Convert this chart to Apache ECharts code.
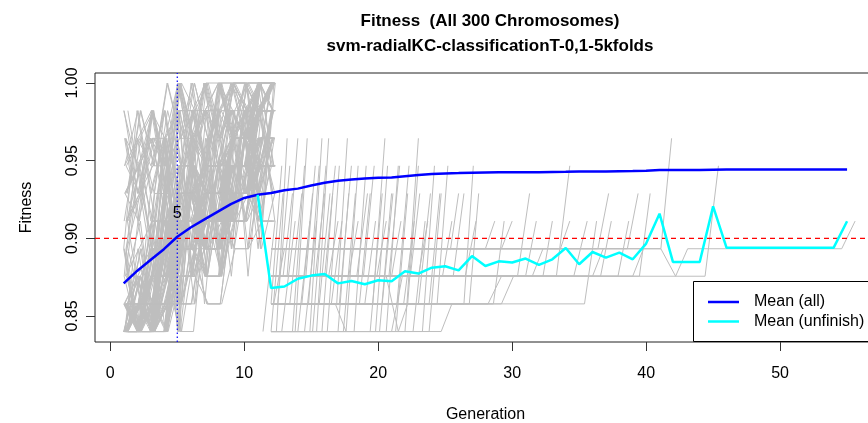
<!DOCTYPE html>
<html>
<head>
<meta charset="utf-8">
<script src="https://cdn.jsdelivr.net/npm/echarts@6/dist/echarts.min.js"></script>
<style>html,body{margin:0;padding:0;background:#fff;}#c{width:868px;height:423px;}</style>
</head>
<body>
<div id="c"></div>
<script>
// ---------------- data ----------------
const titleText = 'Fitness  (All 300 Chromosomes)';
const subtitleText = 'svm-radialKC-classificationT-0,1-5kfolds';
const xName = 'Generation';
const yName = 'Fitness';
const xTicks = [0, 10, 20, 30, 40, 50];
const yTicks = [0.85, 0.90, 0.95, 1.00];
const seriesNames = ['Mean (all)', 'Mean (unfinish)'];

// discrete fitness levels seen as horizontal bands
const levels = [0.84, 0.8578, 0.8756, 0.8933, 0.9111, 0.9289, 0.9467, 0.9644, 0.9822, 1.0];

const generations = [1,2,3,4,5,6,7,8,9,10,11,12,13,14,15,16,17,18,19,20,21,22,23,24,25,26,27,28,29,30,31,32,33,34,35,36,37,38,39,40,41,42,43,44,45,46,47,48,49,50,51,52,53,54,55];
const meanAll = [0.871,0.879,0.886,0.893,0.901,0.907,0.912,0.917,0.922,0.926,
  0.928,0.9292,0.931,0.932,0.934,0.9358,0.937,0.9378,0.9385,0.939,
  0.9392,0.940,0.9408,0.9414,0.9418,0.942,0.9423,0.9424,0.9425,0.9425,
  0.9425,0.9426,0.9427,0.9428,0.943,0.943,0.9431,0.9432,0.9433,0.9435,
  0.944,0.944,0.944,0.944,0.9442,0.9443,0.9443,0.9443,0.9443,0.9443,
  0.9443,0.9443,0.9443,0.9443,0.9443];
const unfinishGenerations = [11,12,13,14,15,16,17,18,19,20,21,22,23,24,25,26,27,28,29,30,31,32,33,34,35,36,37,38,39,40,41,42,43,44,45,46,47,48,49,50,51,52,53,54,55];
const meanUnfinish = [0.928,0.868,0.869,0.874,0.876,0.877,0.871,0.8725,0.8704,0.873,
  0.8723,0.8788,0.8773,0.8811,0.882,0.8794,0.8886,0.8822,0.8852,0.8844,
  0.887,0.8829,0.8865,0.8938,0.8833,0.8912,0.8876,0.8908,0.8865,0.8966,
  0.9159,0.8848,0.8848,0.8848,0.9206,0.894,0.894,0.894,0.894,0.894,
  0.894,0.894,0.894,0.894,0.911];

const thresholdFitness = 0.9;
const thresholdGeneration = 5;
const thresholdLabel = '5';
const thresholdLabelFitness = 0.916;
const yRange = [0.83326, 1.00644];
const xRange = [-1.142, 57.16];

// individual chromosomes, generations 1..12: first digit = small generation offset,
// then one level index per generation
const earlyPaths = [
 "0003355446677","3014422556688","6000444335566","1102536475869","4000033666677",
 "7021144557766","2300055226644","5011566447788","8000222555577","9130314425566",
 "0002255336699","4010044225577","7220055447766","1000311446655","5103366557788",
 "2041125364758","6002200554466","3110336557799",
 "1023355664477","5100022446688","8000413524635","2014455667766","6200033115566",
 "3001146335577","7030255446677","4112244336655","9005533667788",
 "2000111444466","6021436556677","5003344225588","8010155336677",
 "7240355667799","0001122554466","4000506354657","9310244556688",
 "1002233446655","2120022335566","8001436557766",
 "3013355446699","7200144335577","0000325364758","4011044557788","9002211443366",
 "1000355664477","6101033225544","2030044556688","8000122556677","5456677889999",
 "3002435465768","7010033445566","4234455667799","9001144336655",
 "1120055447788","6000233115544","2012455667788","5301244335566",
 "3002266557788","7010134254667","4567788999999","9100022113344",
 "1003355667799","6020144556677","8411033445566","5001255446688",
 "3000133225566","7123355667789","0010044335566","4000255446677","9200113344566",
 "1002344556688","2678788899989","8014433556677",
 "3100355446699","7003344557766","0020133446655","9012255667788",
 "1300044335566","6001133224455","2000566447788","8110244556677","5002233445599",
 "7021355447766","0100033556688","4000144335566","9013366557799",
 "0005273648596","3014062736485","5100638475968","1020507162738","7000416253647",
 "2103715264857","4000082637485","6012604738596","8000351627384","1200716283746",
 "3001527364758","5010463827596","0300274635869","9000603725849","2011405263748",
 "4002716384957","6100537264839","8020164738275","1000725364869","3010382647586",
 "2685796897899","5748596879898","1857697869789","4768579698789","7586978697899",
 "0867586979889","3758697889798","6678597869989","8586979788999","9857698979889",
 "1476859687989","4567486978899","2748596978789","5658697859898","7468597689799",
 "3546857697889","6457685979868","0385746968799","8475869787899","2563748697989",
 "5364758697889","9453768597988","1274857968799","7352647596889","4263758697968"
];

// later chromosomes: [start level, generation leaving it, generation reached, final level]
const latePaths = [
 [0,11.4,12.3,4],[0,12.0,12.9,5],[1,12.0,12.8,6],[1,12.2,13.0,3],[0,12.4,13.2,7],
 [1,12.5,13.4,6],[0,12.8,13.8,4],[2,12.9,13.6,5],[2,13.2,14.0,7],[1,13.4,14.3,5],
 [0,13.6,14.5,6],[0,13.8,14.7,7],[0,14.0,14.9,4],[1,14.3,15.1,5],[0,14.5,15.4,4],
 [2,14.6,15.3,6],[1,14.8,15.6,6],[0,14.9,15.8,7],[2,15.3,16.0,5],[0,15.1,16.1,6],
 [0,15.4,16.3,7],[1,15.6,16.4,5],[0,15.8,16.6,5],[2,16.0,16.8,6],[2,16.3,17.0,4],
 [0,16.2,17.1,6],[1,16.5,17.3,4],[1,16.9,17.7,7],[0,17.0,17.8,5],[1,17.1,18.0,6],
 [0,17.4,18.3,5],[0,17.6,18.5,6],[2,17.8,18.5,4],[0,18.2,19.1,6],[2,18.4,19.2,5],
 [1,18.6,19.4,5],[2,18.9,19.7,6],[1,19.0,19.8,4],[0,19.4,20.3,5],[1,19.6,20.5,7],
 [0,19.8,20.7,6],[2,19.9,20.6,4],[0,20.1,21.0,5],[1,20.3,21.1,5],[0,20.6,21.5,6],
 [2,20.8,21.6,6],[2,21.0,21.7,4],[0,21.3,22.2,5],[1,21.4,22.3,6],[1,21.9,22.7,4],
 [0,22.0,23.0,7],[1,22.2,23.0,6],[2,22.4,23.1,5],[0,22.6,23.5,4],[2,23.0,23.7,4],
 [1,23.0,23.9,5],[0,23.3,24.2,6],[1,23.8,24.6,5],[0,23.8,24.7,5],[1,24.4,25.2,6],
 [2,24.8,25.5,4],[3,25.4,26.0,5],[2,25.6,26.4,5],[1,26.4,27.1,6],[2,26.5,27.3,4],
 [1,26.8,27.5,5],[3,28.0,28.7,4],[1,28.6,29.4,4],[3,29.2,30.0,4],[2,30.4,31.3,5],
 [2,31.0,31.8,4],[2,32.3,33.0,4],[2,33.3,34.3,6],[3,33.6,34.3,4],[2,34.6,35.6,4],
 [1,35.4,36.3,4],[3,36.4,37.2,5],[2,36.6,37.4,4],[2,37.9,38.7,4],[3,38.6,39.4,5],
 [2,39.5,40.3,5],[3,41.1,41.9,7],[2,44.4,45.4,6]
];
// a few wandering low chromosomes: [generation, level] pairs
const wanderPaths = [
 [[12,3],[41.1,3],[42.2,2],[43.1,3],[54.6,3],[55.6,4]],
 [[12,0],[24.7,0],[25.5,1],[29.2,1],[30.1,2],[36.0,2],[36.8,3]],
 [[12,2],[20.6,2],[21.5,0],[22.2,1],[28.2,1],[29.2,2],[39.0,2],[39.8,3]],
 [[12,1],[16.8,1],[17.6,0],[21.0,0],[21.8,2],[31.5,2],[32.3,3]]
];

// ---------------- chart ----------------
const chart = echarts.init(document.getElementById('c'), null, {renderer: 'canvas'});
const FONT = "'Liberation Sans', Arial, Helvetica, sans-serif";
const gray = '#BEBEBE';
const grayLine = {type: 'line', silent: true, symbol: 'none', z: 1, lineStyle: {color: gray, width: 1}};

const series = [];
earlyPaths.forEach(s => {
  const off = (+s[0]) * 0.035;
  series.push(Object.assign({}, grayLine, {
    data: s.slice(1).split('').map((c, i) => [i + 1 + off, levels[+c]])
  }));
});
latePaths.forEach(p => {
  const [lo, g0, g1, hi] = p;
  const d = [];
  if (g0 > 12) d.push([12, levels[lo]]);
  d.push([g0, levels[lo]]);
  d.push([g1, levels[hi]]);
  series.push(Object.assign({}, grayLine, {data: d}));
});
wanderPaths.forEach(p => {
  series.push(Object.assign({}, grayLine, {data: p.map(q => [q[0], levels[q[1]]])}));
});

// threshold lines (drawn across the full axis range)
series.push({
  type: 'line', silent: true, symbol: 'none', z: 4,
  itemStyle: {color: '#FF0000'},
  lineStyle: {color: '#FF0000', type: [5, 4], width: 1.2},
  data: [[xRange[0], thresholdFitness], [xRange[1], thresholdFitness]]
});
series.push({
  type: 'line', silent: true, symbol: 'none', z: 4,
  itemStyle: {color: '#0000FF'},
  lineStyle: {color: '#0000FF', type: [1.5, 2.5], width: 1.2},
  data: [[thresholdGeneration, yRange[0]], [thresholdGeneration, yRange[1]]]
});

series.push({
  name: seriesNames[0], type: 'line', symbol: 'none', z: 5,
  itemStyle: {color: '#0000FF'},
  lineStyle: {color: '#0000FF', width: 2.5},
  data: generations.map((g, i) => [g, meanAll[i]]),
  markPoint: {
    silent: true, symbol: 'circle', symbolSize: 0, animation: false,
    label: {show: true, position: 'inside', rotate: 0, formatter: thresholdLabel,
      fontFamily: FONT, fontSize: 16, color: '#000'},
    data: [{coord: [thresholdGeneration, thresholdLabelFitness]}]
  }
});
series.push({
  name: seriesNames[1], type: 'line', symbol: 'none', z: 6,
  itemStyle: {color: '#00FFFF'},
  lineStyle: {color: '#00FFFF', width: 2.5},
  data: unfinishGenerations.map((g, i) => [g, meanUnfinish[i]])
});

const option = {
  animation: false,
  backgroundColor: '#fff',
  title: [
    {text: titleText, left: 485, top: 8, textAlign: 'center',
     textStyle: {fontFamily: FONT, fontSize: 17, fontWeight: 'bold', color: '#000'}},
    {text: subtitleText, left: 485, top: 33, textAlign: 'center',
     textStyle: {fontFamily: FONT, fontSize: 17, fontWeight: 'bold', color: '#000'}}
  ],
  grid: {left: 95, top: 73, right: -8, height: 269, show: true, outerBoundsMode: 'none',
    borderColor: '#222', borderWidth: 1, backgroundColor: 'transparent', containLabel: false},
  xAxis: {
    type: 'value', min: xRange[0], max: xRange[1],
    axisLine: {show: false, onZero: false},
    splitLine: {show: false},
    axisTick: {show: true, customValues: xTicks, length: 9, lineStyle: {color: '#333'}},
    axisLabel: {customValues: xTicks, fontFamily: FONT, fontSize: 16, color: '#000', margin: 24},
    name: xName, nameLocation: 'middle', nameGap: 65,
    nameTextStyle: {fontFamily: FONT, fontSize: 16, color: '#000'}
  },
  yAxis: {
    type: 'value', min: yRange[0], max: yRange[1],
    axisLine: {show: false, onZero: false},
    splitLine: {show: false},
    axisTick: {show: true, customValues: yTicks, length: 9, lineStyle: {color: '#333'}},
    axisLabel: {customValues: yTicks, rotate: 90, fontFamily: FONT, fontSize: 16, color: '#000', margin: 14,
      formatter: v => v.toFixed(2)},
    name: yName, nameLocation: 'middle', nameGap: 60,
    nameTextStyle: {fontFamily: FONT, fontSize: 16, color: '#000'}
  },
  graphic: [
    {type: 'rect', z: 100, shape: {x: 693.5, y: 281.5, width: 190, height: 60},
     style: {fill: '#fff', stroke: '#000', lineWidth: 1}},
    {type: 'line', z: 101, shape: {x1: 708, y1: 302, x2: 739, y2: 302},
     style: {stroke: '#0000FF', lineWidth: 2.5}},
    {type: 'line', z: 101, shape: {x1: 708, y1: 321.5, x2: 739, y2: 321.5},
     style: {stroke: '#00FFFF', lineWidth: 2.5}},
    {type: 'text', z: 101, x: 754, y: 302,
     style: {text: seriesNames[0], font: '16px ' + FONT, fill: '#000', verticalAlign: 'middle', align: 'left'}},
    {type: 'text', z: 101, x: 754, y: 321.5,
     style: {text: seriesNames[1], font: '16px ' + FONT, fill: '#000', verticalAlign: 'middle', align: 'left'}}
  ],
  series: series
};
chart.setOption(option);
</script>
</body>
</html>
